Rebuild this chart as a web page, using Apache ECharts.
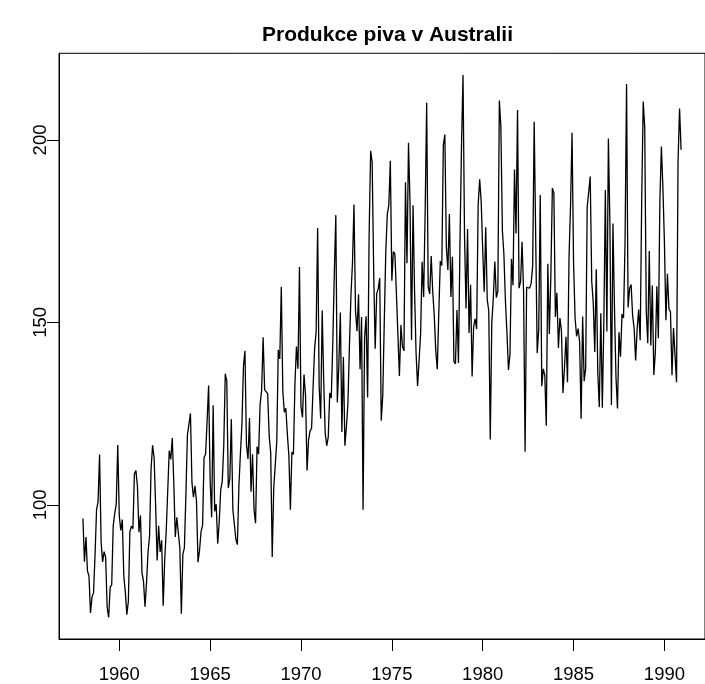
<!DOCTYPE html>
<html>
<head>
<meta charset="utf-8">
<title>Produkce piva v Australii</title>
<script src="https://cdn.jsdelivr.net/npm/echarts@6/dist/echarts.min.js"></script>
<style>
  html, body { margin: 0; padding: 0; background: #fff; }
  #chart { width: 705px; height: 684px; }
</style>
</head>
<body>
<div id="chart"></div>
<script>
// Monthly beer production in Australia (megalitres), January 1958 onwards
const startYear = 1958;
const prod1958to1965 = [
  96.3, 84.4, 91.2, 81.9, 80.5, 70.4, 74.8, 75.9, 86.3, 98.7, 100.9, 113.8,
  89.8, 84.4, 87.2, 85.6, 72.0, 69.2, 77.5, 78.1, 94.3, 97.7, 100.2, 116.4,
  97.1, 93.0, 96.0, 80.5, 76.1, 69.9, 73.6, 92.6, 94.2, 93.5, 108.5, 109.4,
  105.1, 92.5, 97.1, 81.4, 79.1, 72.1, 78.7, 87.1, 91.4, 109.9, 116.3, 113.0,
  100.0, 84.8, 94.3, 87.1, 90.3, 72.4, 84.9, 92.7, 92.2, 114.9, 112.5, 118.3,
  106.0, 91.2, 96.6, 96.3, 88.2, 70.2, 86.5, 88.2, 102.8, 119.1, 119.2, 125.1,
  106.1, 102.1, 105.2, 101.0, 84.3, 87.5, 92.7, 94.4, 113.0, 113.9, 122.9, 132.7,
  106.9, 96.6, 127.3, 98.2, 100.2, 89.4, 95.3, 104.2, 106.4, 116.2, 135.9, 134.0
];
const prod1966to1973 = [
  104.6, 107.1, 123.5, 98.8, 98.6, 90.6, 89.1, 105.2, 114.0, 122.1, 138.0, 142.2,
  116.4, 112.6, 123.8, 103.6, 113.9, 98.6, 95.0, 116.0, 113.9, 127.5, 131.4, 145.9,
  131.5, 131.0, 130.5, 118.9, 114.3, 85.7, 104.6, 105.1, 117.3, 142.5, 140.0, 159.8,
  131.2, 125.4, 126.5, 119.4, 113.5, 98.7, 114.5, 113.8, 133.1, 143.4, 137.3, 165.2,
  126.9, 124.0, 135.7, 130.0, 109.4, 117.8, 120.3, 121.0, 132.3, 142.9, 147.4, 175.9,
  132.6, 123.7, 153.3, 134.0, 119.6, 116.2, 118.6, 130.7, 129.3, 144.4, 163.2, 179.4,
  128.1, 138.4, 152.7, 120.0, 140.5, 116.2, 121.4, 127.8, 143.6, 157.6, 166.2, 182.3,
  153.1, 147.6, 157.7, 137.2, 151.5, 98.7, 145.8, 151.7, 129.4, 174.1, 197.0, 193.9
];
const prod1974to1981 = [
  164.1, 142.8, 157.9, 159.2, 162.2, 123.1, 130.0, 150.1, 169.4, 179.7, 182.1, 194.3,
  161.4, 169.4, 168.8, 158.1, 158.5, 135.3, 149.3, 143.4, 142.2, 188.4, 166.2, 199.2,
  182.7, 145.2, 182.1, 158.7, 141.6, 132.6, 139.6, 147.0, 166.6, 157.0, 180.4, 210.2,
  159.8, 157.8, 168.2, 158.4, 152.0, 142.2, 137.2, 152.6, 166.8, 165.6, 198.6, 201.5,
  170.7, 164.4, 179.7, 157.0, 168.0, 139.3, 138.6, 153.4, 138.9, 172.1, 198.4, 217.8,
  173.7, 153.8, 175.6, 147.1, 160.3, 135.2, 148.8, 151.0, 148.2, 182.2, 189.2, 183.1,
  170.0, 158.4, 176.1, 156.2, 153.2, 117.9, 149.8, 156.6, 166.7, 156.8, 158.6, 210.8,
  203.6, 175.2, 168.7, 155.9, 147.3, 137.0, 141.1, 167.4, 160.2, 191.9, 174.4, 208.2
];
const prod1982to1990 = [
  159.4, 161.1, 172.1, 158.4, 114.6, 159.6, 159.7, 159.4, 160.7, 165.5, 205.0, 205.2,
  141.6, 148.1, 184.9, 132.5, 137.3, 135.5, 121.7, 166.1, 146.8, 162.8, 186.8, 185.5,
  151.5, 158.1, 143.0, 151.2, 147.6, 130.7, 137.5, 146.1, 133.6, 167.9, 181.9, 202.0,
  166.5, 151.3, 146.2, 148.3, 144.7, 123.6, 151.6, 133.9, 137.4, 181.6, 182.0, 190.0,
  161.2, 155.5, 141.9, 164.6, 136.2, 126.8, 152.5, 126.6, 150.1, 186.3, 147.5, 200.4,
  177.2, 127.4, 177.1, 154.4, 135.2, 126.4, 147.3, 140.6, 152.3, 151.2, 172.2, 215.3,
  154.1, 159.3, 160.4, 151.9, 148.4, 139.6, 148.2, 153.5, 145.1, 183.7, 210.5, 203.3,
  153.3, 144.3, 169.6, 143.7, 160.1, 135.6, 141.8, 159.9, 145.7, 183.5, 198.2, 186.8,
  172.0, 150.6, 163.3, 153.7, 152.9, 135.5, 148.5, 148.4, 133.6, 194.1, 208.6, 197.3
];
const xTickYears = [1960, 1965, 1970, 1975, 1980, 1985, 1990];
const yTickValues = [100, 150, 200];
const chartTitle = 'Produkce piva v Australii';

const production = [].concat(prod1958to1965, prod1966to1973, prod1974to1981, prod1982to1990);
const seriesData = production.map((v, i) => [startYear + i / 12, v]);

// Axis ranges padded by 4% on each side of the data range
const tFirst = startYear;
const tLast = startYear + (production.length - 1) / 12;
const padX = (tLast - tFirst) * 0.04;
const vMin = Math.min(...production), vMax = Math.max(...production);
const padY = (vMax - vMin) * 0.04;

const FONT = '"Liberation Sans", Arial, Helvetica, sans-serif';
const chart = echarts.init(document.getElementById('chart'), null, { renderer: 'canvas' });

const gridLeft = 59, gridTop = 53.3, gridWidth = 657, gridHeight = 585.7;

chart.setOption({
  animation: false,
  backgroundColor: '#ffffff',
  grid: {
    left: gridLeft, top: gridTop, width: gridWidth, height: gridHeight,
    show: true, borderColor: '#000', borderWidth: 1, backgroundColor: 'transparent'
  },
  graphic: [{
    type: 'text',
    x: gridLeft + gridWidth / 2,
    y: 35,
    style: {
      text: chartTitle,
      font: 'bold 21px ' + FONT, fill: '#000',
      align: 'center', verticalAlign: 'middle'
    }
  }],
  xAxis: {
    type: 'value',
    min: tFirst - padX, max: tLast + padX,
    splitLine: { show: false },
    axisLine: { show: true, onZero: false, lineStyle: { color: '#000', width: 1 } },
    axisTick: { show: true, length: 12, lineStyle: { color: '#000', width: 1 }, customValues: xTickYears },
    axisLabel: { color: '#000', fontSize: 18.5, fontFamily: FONT, margin: 26, customValues: xTickYears, formatter: v => String(v) }
  },
  yAxis: {
    type: 'value',
    min: vMin - padY, max: vMax + padY,
    splitLine: { show: false },
    axisLine: { show: true, onZero: false, lineStyle: { color: '#000', width: 1 } },
    axisTick: { show: true, length: 12, lineStyle: { color: '#000', width: 1 }, customValues: yTickValues },
    axisLabel: { color: '#000', fontSize: 18.5, fontFamily: FONT, rotate: 90, margin: 9, customValues: yTickValues, formatter: v => String(v) }
  },
  series: [{
    type: 'line',
    data: seriesData,
    showSymbol: false,
    symbol: 'none',
    lineStyle: { color: '#000', width: 1.3 },
    clip: true
  }]
});
</script>
</body>
</html>
